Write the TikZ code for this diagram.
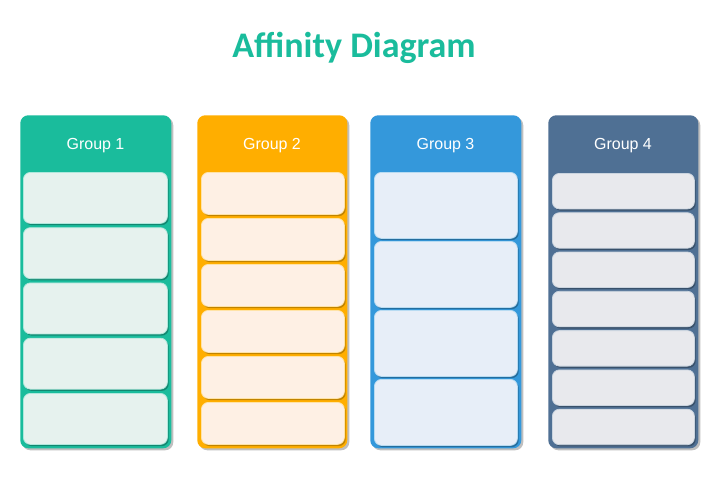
\documentclass[tikz,border=0pt]{standalone}
\usepackage{fontspec}
\setmainfont{Liberation Sans}
\newfontfamily\titlefont{Carlito}
\usetikzlibrary{shadows}
\definecolor{teal1}{RGB}{26,188,156}
\definecolor{orange2}{RGB}{255,174,0}
\definecolor{blue3}{RGB}{52,152,219}
\definecolor{slate4}{RGB}{79,112,148}
\definecolor{card1}{RGB}{230,242,238}
\definecolor{card2}{RGB}{254,240,228}
\definecolor{card3}{RGB}{231,238,248}
\definecolor{card4}{RGB}{232,233,237}
\tikzset{
  x=0.75pt, y=-0.75pt,
  panel/.style={rounded corners=8*0.75pt, inner sep=0pt, anchor=north west,
    drop shadow={shadow xshift=1.5pt, shadow yshift=-1.5pt, fill=black, opacity=0.25}},
  card/.style={rounded corners=7*0.75pt, inner sep=0pt, anchor=north west, line width=0.6pt},
  grouplabel/.style={text=white, font=\fontsize{12}{14}\selectfont},
}
\begin{document}
\begin{tikzpicture}
\useasboundingbox[fill=white] (0,0) rectangle (719,480);
\node[text=teal1, font=\titlefont\bfseries\fontsize{27}{30}\selectfont] (title) at (354,47.5) {Affinity Diagram};

% panels
\node[panel, fill=teal1, minimum width=151*0.75pt, minimum height=333*0.75pt] (g1) at (20,115) {};
\node[panel, fill=orange2, minimum width=150*0.75pt, minimum height=333*0.75pt] (g2) at (197,115) {};
\node[panel, fill=blue3, minimum width=151*0.75pt, minimum height=333*0.75pt] (g3) at (370,115) {};
\node[panel, fill=slate4, minimum width=150*0.75pt, minimum height=333*0.75pt] (g4) at (548,115) {};

\node[grouplabel] (l1) at (95.5,146) {Group 1};
\node[grouplabel] (l2) at (272,146) {Group 2};
\node[grouplabel] (l3) at (445.5,146) {Group 3};
\node[grouplabel] (l4) at (623,146) {Group 4};

% cards group 1
\foreach \i in {0,...,4}{
  \node[card, fill=card1, draw=teal1!35!white,
    drop shadow={shadow xshift=1pt, shadow yshift=-1.3pt, fill=teal1!60!black, opacity=0.7},
    minimum width=144*0.75pt, minimum height=51*0.75pt] (c1-\i) at (23,172+\i*55.25) {};
}
% cards group 2
\foreach \i in {0,...,5}{
  \node[card, fill=card2, draw=orange2!35!white,
    drop shadow={shadow xshift=1pt, shadow yshift=-1.3pt, fill=orange2!65!black, opacity=0.7},
    minimum width=143*0.75pt, minimum height=42*0.75pt] (c2-\i) at (201,172+\i*46) {};
}
% cards group 3
\foreach \i in {0,...,3}{
  \node[card, fill=card3, draw=blue3!35!white,
    drop shadow={shadow xshift=1pt, shadow yshift=-1.3pt, fill=blue3!60!black, opacity=0.7},
    minimum width=143*0.75pt, minimum height=66*0.75pt] (c3-\i) at (374,172+\i*69) {};
}
% cards group 4
\foreach \i in {0,...,6}{
  \node[card, fill=card4, draw=slate4!30!white,
    drop shadow={shadow xshift=1pt, shadow yshift=-1.3pt, fill=slate4!60!black, opacity=0.7},
    minimum width=142*0.75pt, minimum height=35.5*0.75pt] (c4-\i) at (552,173+\i*39.3) {};
}
\end{tikzpicture}
\end{document}
